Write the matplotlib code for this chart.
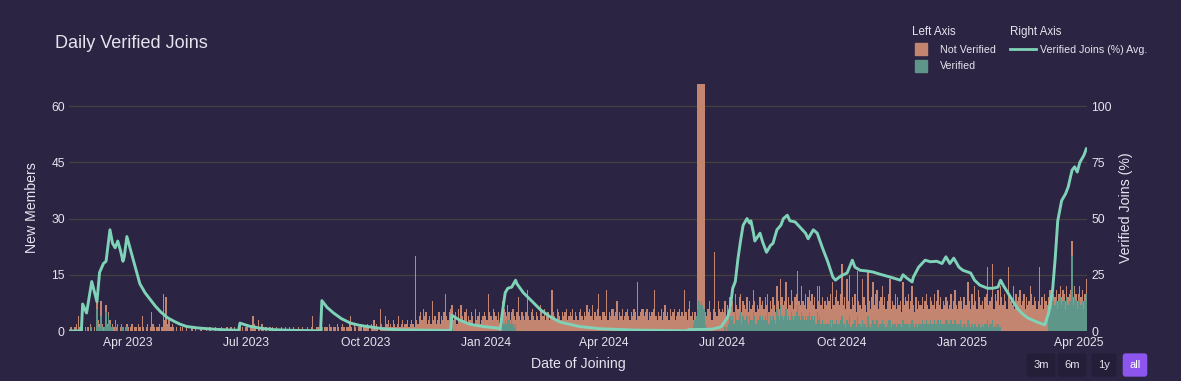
import matplotlib
matplotlib.use("Agg")
import matplotlib.pyplot as plt
import matplotlib.dates as mdates
from matplotlib.lines import Line2D
import numpy as np
import pandas as pd

plt.rcParams["font.family"] = ["Liberation Sans", "DejaVu Sans"]

# daily joins (all members), 2023-02-15 .. 2025-04-07, one line per month
total_2023 = [
    0, 1, 0, 0, 1, 2, 0, 4, 1, 0, 2, 0, 1, 0,
    1, 0, 2, 1, 0, 1, 0, 9, 3, 2, 8, 2, 1, 1, 7, 2, 5, 3, 1, 2, 1, 3, 1, 2, 0, 1, 2, 1, 0, 1, 2,
    1, 0, 1, 2, 0, 1, 1, 0, 2, 1, 0, 4, 1, 0, 1, 2, 0, 1, 5, 2, 1, 0, 1, 1, 2, 0, 1, 10, 3, 9,
    2, 3, 3, 1, 2, 1, 0, 1, 0, 0, 1, 0, 1, 0, 0, 1, 0, 0, 0, 1, 0, 0, 1, 0, 0, 0, 1, 0, 0, 0, 1,
    0, 0, 1, 0, 0, 0, 1, 0, 0, 0, 0, 1, 0, 0, 0, 1, 0, 0, 1, 0, 0, 1, 0, 0, 1, 2, 0, 1, 0, 1,
    1, 2, 0, 1, 1, 4, 2, 1, 0, 3, 1, 0, 2, 1, 0, 1, 0, 0, 1, 0, 1, 0, 0, 1, 0, 0, 0, 1, 0, 0, 1,
    0, 0, 1, 0, 0, 1, 0, 0, 0, 1, 0, 0, 1, 0, 0, 0, 1, 0, 0, 1, 4, 0, 0, 1, 1, 0, 2, 1, 0, 1, 1,
    1, 0, 2, 1, 0, 1, 1, 0, 2, 1, 0, 1, 2, 1, 0, 1, 1, 2, 4, 1, 0, 2, 1, 0, 1, 1, 2, 0, 1, 1,
    1, 2, 1, 0, 2, 1, 3, 1, 2, 1, 0, 6, 2, 1, 1, 4, 2, 3, 1, 2, 1, 3, 2, 1, 2, 4, 1, 2, 3, 1, 2,
    2, 3, 1, 2, 3, 2, 1, 20, 3, 2, 4, 5, 3, 6, 4, 5, 2, 3, 4, 2, 8, 3, 4, 2, 3, 5, 2, 4, 3, 5,
    10, 4, 3, 5, 6, 7, 3, 4, 5, 2, 6, 3, 7, 4, 3, 5, 6, 2, 4, 3, 5, 4, 2, 6, 3, 4, 5, 2, 3, 4, 5,
]
total_2024 = [
    4, 3, 10, 5, 4, 3, 6, 5, 4, 3, 5, 2, 4, 8, 6, 5, 4, 7, 5, 3, 5, 6, 4, 3, 5, 9, 4, 3, 5, 4, 3,
    5, 11, 4, 3, 5, 6, 4, 3, 5, 4, 3, 7, 5, 4, 6, 3, 4, 5, 3, 4, 11, 5, 4, 3, 6, 5, 4, 3, 5,
    4, 5, 6, 3, 4, 5, 4, 6, 3, 5, 4, 3, 5, 6, 4, 3, 5, 4, 7, 5, 6, 4, 7, 3, 5, 4, 6, 10, 4, 3, 5,
    5, 4, 11, 3, 5, 4, 6, 6, 4, 5, 8, 3, 5, 4, 6, 3, 4, 5, 6, 4, 3, 5, 4, 6, 5, 3, 13, 4, 5, 6,
    6, 4, 5, 6, 3, 5, 4, 5, 6, 11, 4, 3, 5, 4, 6, 3, 5, 7, 4, 5, 3, 6, 4, 5, 6, 3, 4, 5, 6, 4, 5,
    4, 11, 5, 3, 6, 8, 4, 5, 3, 5, 4, 66, 66, 66, 66, 66, 66, 5, 4, 6, 8, 5, 3, 6, 21, 5, 4, 8, 6, 5,
    6, 5, 8, 4, 7, 5, 9, 6, 8, 5, 10, 7, 6, 9, 10, 5, 8, 7, 6, 9, 5, 8, 6, 7, 11, 8, 5, 7, 6, 9, 7,
    8, 6, 9, 7, 10, 5, 8, 6, 9, 7, 5, 12, 8, 6, 14, 9, 7, 8, 13, 6, 9, 7, 11, 8, 6, 9, 10, 16, 8, 7, 12,
    8, 7, 10, 6, 9, 11, 8, 10, 7, 9, 6, 12, 8, 12, 7, 9, 6, 8, 7, 9, 8, 10, 6, 13, 7, 9, 11, 8, 7, 10,
    18, 7, 9, 6, 14, 8, 15, 6, 9, 7, 10, 5, 16, 8, 7, 6, 14, 9, 7, 5, 16, 8, 6, 9, 13, 7, 10, 11, 6, 8, 9,
    12, 7, 9, 6, 8, 10, 14, 6, 8, 7, 10, 6, 9, 7, 8, 5, 13, 7, 9, 8, 10, 6, 8, 12, 7, 5, 9, 6, 8, 7,
    7, 9, 6, 8, 10, 7, 6, 9, 8, 7, 10, 6, 8, 11, 7, 9, 6, 8, 7, 9, 8, 6, 7, 10, 6, 8, 11, 7, 6, 8, 9,
]
total_2025 = [
    8, 6, 9, 7, 7, 13, 8, 6, 10, 7, 12, 8, 6, 11, 9, 7, 8, 6, 9, 10, 17, 7, 8, 9, 18, 6, 10, 8, 11, 7, 12,
    9, 7, 10, 8, 6, 17, 9, 8, 7, 12, 6, 10, 8, 9, 11, 7, 8, 10, 6, 9, 7, 8, 12, 10, 7, 9, 8, 6,
    8, 17, 7, 9, 6, 10, 8, 7, 9, 11, 8, 12, 10, 9, 11, 8, 10, 12, 9, 11, 10, 8, 12, 9, 10, 11, 24, 9, 12, 10, 8,
    10, 12, 9, 11, 8, 10, 14,
]

# verified joins before the verification step went live (sparse days only)
verified_early = {
    "2023-02-25": 1, "2023-03-03": 1, "2023-03-04": 1, "2023-03-08": 6, "2023-03-09": 1,
    "2023-03-10": 1, "2023-03-11": 4, "2023-03-12": 1, "2023-03-14": 1, "2023-03-15": 5,
    "2023-03-16": 1, "2023-03-17": 4, "2023-03-18": 2, "2023-03-19": 1, "2023-03-20": 1,
    "2023-03-22": 2, "2023-03-24": 1, "2023-03-27": 1, "2023-03-28": 1, "2023-03-30": 1,
    "2023-03-31": 1, "2023-08-28": 1, "2023-12-06": 1,
    "2024-01-14": 3, "2024-01-15": 2, "2024-01-16": 3, "2024-01-17": 2, "2024-01-18": 4,
    "2024-01-19": 3, "2024-01-20": 2, "2024-01-21": 3, "2024-01-22": 2, "2024-01-23": 1,
    "2024-01-24": 2, "2024-06-09": 2, "2024-06-10": 3, "2024-06-11": 4, "2024-06-12": 6,
    "2024-06-13": 8, "2024-06-14": 7, "2024-06-15": 8, "2024-06-16": 7, "2024-06-17": 6,
    "2024-06-18": 2, "2024-06-19": 1,
}
# daily verified joins from 2024-07-01
verified_2024h2 = [
    0, 0, 1, 0, 1, 2, 4, 3, 4, 2, 5, 3, 3, 4, 5, 2, 4, 3, 3, 4, 2, 4, 3, 3, 5, 4, 2, 3, 3, 4, 3,
    4, 3, 4, 3, 5, 2, 4, 3, 4, 3, 2, 6, 4, 3, 7, 4, 3, 4, 6, 3, 4, 3, 5, 4, 3, 4, 5, 7, 4, 3, 5,
    4, 3, 4, 3, 4, 5, 3, 4, 3, 4, 2, 5, 3, 4, 2, 3, 2, 2, 2, 2, 2, 3, 1, 3, 2, 2, 3, 2, 2, 3,
    4, 2, 2, 1, 3, 2, 4, 1, 2, 2, 3, 1, 4, 2, 2, 1, 3, 2, 2, 1, 4, 2, 1, 2, 3, 2, 2, 3, 1, 2, 2,
    3, 2, 2, 1, 2, 3, 3, 1, 2, 2, 2, 1, 2, 2, 2, 1, 3, 2, 2, 2, 2, 1, 2, 3, 2, 1, 2, 1, 2, 2,
    2, 3, 2, 2, 3, 2, 2, 3, 2, 2, 3, 2, 2, 3, 2, 3, 2, 2, 2, 3, 3, 2, 2, 3, 2, 2, 3, 2, 2, 2, 3,
]
verified_2025 = [
    2, 1, 2, 2, 1, 3, 2, 1, 2, 1, 2, 2, 1, 2, 2, 1, 2, 1, 2, 2, 3, 1, 2, 2, 3, 1, 2, 1, 2, 1, 1,
    0, 0, 0, 0, 0, 0, 0, 0, 0, 0, 0, 0, 0, 0, 0, 0, 0, 0, 0, 0, 0, 0, 0, 0, 0, 0, 0, 0,
    0, 0, 0, 0, 0, 0, 0, 0, 6, 8, 6, 9, 8, 7, 8, 6, 8, 9, 7, 8, 8, 6, 9, 7, 8, 8, 20, 7, 9, 8, 6,
    8, 9, 7, 8, 6, 8, 10,
]

# "Verified Joins (%) Avg."
verified_pct_avg = [
    ("2023-02-15", 0), ("2023-02-24", 0), ("2023-02-25", 12), ("2023-02-28", 8),
    ("2023-03-04", 22), ("2023-03-08", 13), ("2023-03-10", 26), ("2023-03-13", 30),
    ("2023-03-15", 31), ("2023-03-18", 45), ("2023-03-20", 39), ("2023-03-22", 37),
    ("2023-03-24", 40), ("2023-03-26", 36), ("2023-03-28", 31), ("2023-03-29", 33),
    ("2023-03-31", 42), ("2023-04-05", 31.5), ("2023-04-10", 21), ("2023-04-14", 17),
    ("2023-04-18", 14), ("2023-04-22", 11), ("2023-04-26", 8.5), ("2023-05-01", 6),
    ("2023-05-06", 4.4), ("2023-05-11", 3), ("2023-05-16", 2), ("2023-05-24", 1.4),
    ("2023-06-01", 1), ("2023-06-12", 0.6), ("2023-06-25", 0.3), ("2023-06-26", 3.5),
    ("2023-07-03", 2.2), ("2023-07-12", 1.2), ("2023-07-22", 0.6), ("2023-08-04", 0.3),
    ("2023-08-27", 0.1), ("2023-08-28", 13.5), ("2023-09-01", 10.5), ("2023-09-06", 8),
    ("2023-09-12", 5.5), ("2023-09-19", 3.5), ("2023-09-26", 2.5), ("2023-10-02", 2),
    ("2023-10-14", 1), ("2023-10-27", 0.5), ("2023-12-05", 0.2), ("2023-12-06", 7),
    ("2023-12-12", 4.8), ("2023-12-20", 3), ("2023-12-30", 2), ("2024-01-10", 1.3),
    ("2024-01-12", 0.8), ("2024-01-16", 17), ("2024-01-18", 19), ("2024-01-21", 19.5),
    ("2024-01-24", 22.6), ("2024-01-25", 21), ("2024-01-30", 17), ("2024-02-06", 13),
    ("2024-02-12", 9.5), ("2024-02-19", 6.5), ("2024-02-27", 4), ("2024-03-13", 2),
    ("2024-03-29", 1), ("2024-04-25", 0.4), ("2024-06-04", 0.1), ("2024-06-05", 0.6),
    ("2024-06-23", 0.8), ("2024-06-30", 1.8), ("2024-07-05", 6), ("2024-07-07", 10),
    ("2024-07-09", 19), ("2024-07-11", 22), ("2024-07-13", 32), ("2024-07-15", 40),
    ("2024-07-17", 47), ("2024-07-20", 50), ("2024-07-22", 48), ("2024-07-23", 49),
    ("2024-07-25", 43.5), ("2024-07-26", 40), ("2024-07-29", 42.6), ("2024-07-30", 43.5),
    ("2024-08-01", 39.6), ("2024-08-04", 35), ("2024-08-07", 38), ("2024-08-09", 39),
    ("2024-08-12", 45), ("2024-08-15", 47), ("2024-08-17", 50), ("2024-08-20", 51.5),
    ("2024-08-22", 49), ("2024-08-26", 48.5), ("2024-08-30", 46), ("2024-09-03", 43.5),
    ("2024-09-05", 41), ("2024-09-09", 45), ("2024-09-12", 43.5), ("2024-09-16", 37),
    ("2024-09-20", 31), ("2024-09-24", 24), ("2024-09-26", 22.6), ("2024-09-30", 24.4),
    ("2024-10-05", 25.8), ("2024-10-09", 31.5), ("2024-10-11", 28.4), ("2024-10-15", 27),
    ("2024-10-20", 26.7), ("2024-10-25", 26.2), ("2024-10-30", 25.3), ("2024-11-07", 24),
    ("2024-11-15", 22.6), ("2024-11-17", 25), ("2024-11-20", 23.5), ("2024-11-24", 21.8),
    ("2024-11-25", 24), ("2024-11-29", 28.4), ("2024-12-04", 31.5), ("2024-12-08", 30.8),
    ("2024-12-13", 31), ("2024-12-17", 30), ("2024-12-20", 33), ("2024-12-23", 30),
    ("2024-12-26", 32.4), ("2024-12-30", 28.4), ("2025-01-02", 27), ("2025-01-08", 25.8),
    ("2025-01-11", 22.6), ("2025-01-15", 20.4), ("2025-01-21", 19), ("2025-01-25", 19),
    ("2025-01-29", 19.5), ("2025-01-31", 22.6), ("2025-02-02", 20.4), ("2025-02-08", 14.7),
    ("2025-02-13", 10), ("2025-02-17", 7.6), ("2025-02-21", 5.8), ("2025-02-28", 4),
    ("2025-03-06", 2.7), ("2025-03-09", 8), ("2025-03-12", 18), ("2025-03-14", 32),
    ("2025-03-16", 49), ("2025-03-19", 58), ("2025-03-22", 61), ("2025-03-24", 64),
    ("2025-03-27", 71.5), ("2025-03-29", 73), ("2025-03-31", 70.7), ("2025-04-02", 75),
    ("2025-04-05", 78), ("2025-04-07", 81),
]

bg = "#2b2443"
salmon = "#c3856f"
teal = "#5f968a"
mint = "#7fd2b8"
grid_c = "#47403f"
txt = "#e6e4ee"

days = pd.date_range("2023-02-15", "2025-04-07", freq="D")
total = pd.Series(total_2023 + total_2024 + total_2025, index=days)
verified = pd.Series(0, index=days)
for d, v in verified_early.items():
    verified[pd.Timestamp(d)] = v
verified["2024-07-01":] = verified_2024h2 + verified_2025
not_verified = total - verified

line_x = pd.to_datetime([d for d, _ in verified_pct_avg])
line_y = [v for _, v in verified_pct_avg]

W, H = 1181, 381
fig = plt.figure(figsize=(W / 100, H / 100), dpi=100, facecolor=bg)
L, R, T, B = 69, 1087, 84, 331
ax = fig.add_axes([L / W, 1 - B / H, (R - L) / W, (B - T) / H])
ax.set_facecolor(bg)

ax.bar(days, verified.values, width=1.0, color=teal, linewidth=0, zorder=2)
ax.bar(days, not_verified.values, bottom=verified.values, width=1.0,
       color=salmon, linewidth=0, zorder=2)

ax.set_ylim(0, 65.9)
ax.set_yticks([0, 15, 30, 45, 60])
ax.set_xlim(pd.Timestamp("2023-02-14 12:00"), pd.Timestamp("2025-04-07 12:00"))
ax.xaxis.set_major_locator(mdates.MonthLocator(bymonth=[1, 4, 7, 10]))
ax.xaxis.set_major_formatter(mdates.DateFormatter("%b %Y"))
ax.grid(axis="y", color=grid_c, linewidth=0.9, zorder=0)
ax.set_axisbelow(True)
for s in ax.spines.values():
    s.set_visible(False)
ax.tick_params(axis="both", length=0, colors=txt, labelsize=8.7)
ax.tick_params(axis="y", pad=3)
ax.tick_params(axis="x", pad=4)

ax2 = ax.twinx()
ax2.plot(line_x, line_y, color=mint, linewidth=2.1, solid_joinstyle="round", zorder=3)
ax2.set_ylim(0, 65.9 / 60 * 100)
ax2.set_yticks([0, 25, 50, 75, 100])
for s in ax2.spines.values():
    s.set_visible(False)
ax2.tick_params(axis="y", length=0, colors=txt, labelsize=8.7, pad=3)

ax.set_ylabel("New Members", color=txt, fontsize=10.2)
ax.yaxis.set_label_coords(-0.0295, 0.5)
ax2.set_ylabel("Verified Joins (%)", color=txt, fontsize=10.2)
ax2.yaxis.set_label_coords(1.031, 0.5)
ax.set_xlabel("Date of Joining", color=txt, fontsize=10.2)
ax.xaxis.set_label_coords(0.5, -0.105)

fig.text(55 / W, 1 - 43 / H, "Daily Verified Joins", color=txt, fontsize=13,
         ha="left", va="center")

# legends, grouped by axis
h_nv = Line2D([], [], marker="s", linestyle="none", markersize=8, color=salmon)
h_v = Line2D([], [], marker="s", linestyle="none", markersize=8, color=teal)
h_l = Line2D([], [], color=mint, linewidth=2.0)
leg1 = fig.legend([h_nv, h_v], ["Not Verified", "Verified"], title="Left Axis",
                  loc="upper left", bbox_to_anchor=(905 / W, 1 - 19 / H), frameon=False,
                  fontsize=7.7, title_fontsize=8.3, alignment="left", labelcolor=txt,
                  handlelength=1.6, handletextpad=0.95, labelspacing=0.6, borderpad=0.2)
leg1.get_title().set_color(txt)
leg2 = fig.legend([h_l], ["Verified Joins (%) Avg."], title="Right Axis",
                  loc="upper left", bbox_to_anchor=(1003 / W, 1 - 19 / H), frameon=False,
                  fontsize=7.7, title_fontsize=8.3, alignment="left", labelcolor=txt,
                  handlelength=2.4, handletextpad=0.4, labelspacing=0.6, borderpad=0.2)
leg2.get_title().set_color(txt)

# range selector buttons
for label, cx, active in [("3m", 1041, False), ("6m", 1072, False),
                          ("1y", 1104, False), ("all", 1135, True)]:
    fig.text(cx / W, 1 - 365 / H, label, color="white" if active else txt,
             fontsize=8, ha="center", va="center",
             bbox=dict(boxstyle="round,pad=0.6,rounding_size=0.25",
                       fc="#8b55ee" if active else "#251e38", ec="none"))

fig.savefig("out.png", dpi=100, facecolor=bg)
